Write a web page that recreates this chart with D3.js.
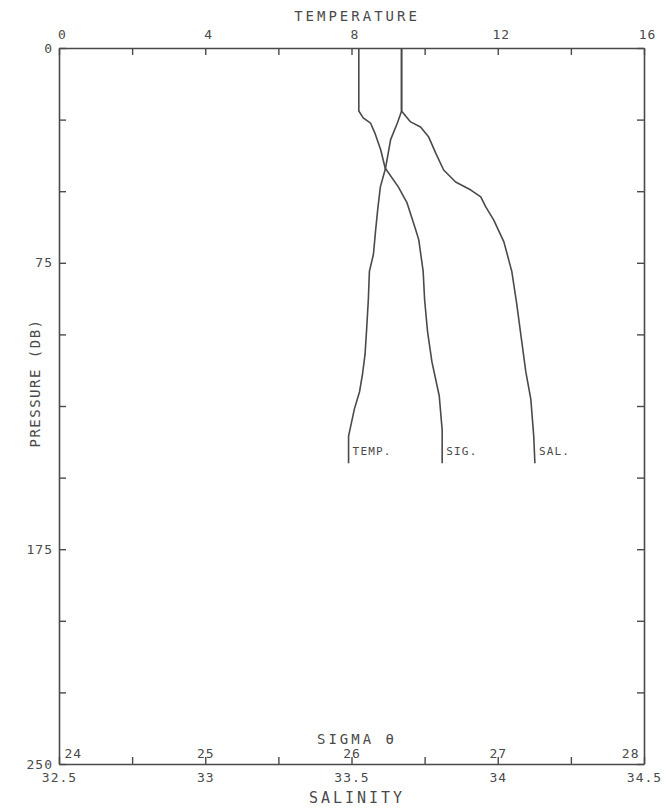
<!DOCTYPE html>
<html>
<head>
<meta charset="utf-8">
<script src="https://cdn.jsdelivr.net/npm/d3@7"></script>
<style>
body { margin:0; background:#fff; }
text { font-family:"DejaVu Sans Mono", monospace; fill:#4a4a4a; }
</style>
</head>
<body>
<div id="chart"></div>
<script>
// tick labels
var tempTicks = [0, 4, 8, 12, 16]
var salTicks = [32.5, 33, 33.5, 34, 34.5]
var sigTicks = [24, 25, 26, 27, 28]
var presTicks = [0, 75, 175, 250]

// profiles: [pressure, value]
var temperature = [[0,9.37],[22,9.37],[26,9.26],[32,9.07],[42,8.93],[48.5,8.79],[56,8.72],[63.6,8.66],[72,8.6],[78,8.49],[88,8.46],[99,8.41],[107,8.37],[114,8.3],[120,8.22],[126,8.08],[135.5,7.92],[145,7.92]]
var sigma = [[0,26.05],[22,26.05],[24.4,26.08],[26.2,26.13],[29.7,26.16],[35.6,26.2],[41.9,26.23],[48.5,26.32],[54.1,26.38],[63.6,26.44],[67,26.46],[78,26.49],[88,26.5],[99,26.52],[109.6,26.55],[121.5,26.6],[133.4,26.62],[145,26.62]]
var salinity = [[0,33.671],[22,33.671],[25.8,33.702],[27.6,33.736],[31.1,33.764],[36.7,33.788],[42.6,33.815],[46.8,33.856],[49.6,33.908],[52,33.942],[55.5,33.959],[60,33.986],[67.7,34.021],[78,34.048],[89.4,34.065],[100.2,34.079],[113.1,34.096],[122.6,34.113],[135.5,34.123],[145,34.127]]

var margin = {top:48, right:26, bottom:46, left:59}
var W = 670, H = 810
var width = W - margin.left - margin.right
var height = H - margin.top - margin.bottom

var svg = d3.select('#chart').append('svg')
    .attr('width', W)
    .attr('height', H)

var y = d3.scaleLinear().domain([0, 250]).range([margin.top, margin.top + height])
var xT = d3.scaleLinear().domain([0, 16]).range([margin.left, margin.left + width])
var xS = d3.scaleLinear().domain([32.5, 34.5]).range([margin.left, margin.left + width])
var xG = d3.scaleLinear().domain([24, 28]).range([margin.left, margin.left + width])

var ink = '#4a4a4a'

function styleAxis(g) {
    g.select('.domain').attr('stroke', ink).attr('stroke-width', 1.6)
    g.selectAll('.tick line').attr('stroke', ink).attr('stroke-width', 1.4)
    g.selectAll('.tick text').attr('font-size', 13).attr('letter-spacing', 1)
        .style('font-family', '"DejaVu Sans Mono", monospace').attr('fill', ink)
}

// top: temperature
svg.append('g')
    .attr('transform', `translate(0,${margin.top})`)
    .call(d3.axisTop(xT).tickValues(d3.range(0, 17, 2)).tickSize(-7).tickSizeOuter(0).tickPadding(9)
        .tickFormat(d => tempTicks.includes(d) ? d : ''))
    .call(styleAxis)
    .call(g => g.selectAll('.tick text').attr('dx', 3))

// bottom: salinity
svg.append('g')
    .attr('transform', `translate(0,${margin.top + height})`)
    .call(d3.axisBottom(xS).tickValues(d3.range(32.5, 34.51, 0.25)).tickSize(-7).tickSizeOuter(0).tickPadding(9)
        .tickFormat(d => salTicks.includes(d) ? d : ''))
    .call(styleAxis)

// bottom, inside: sigma theta labels
svg.append('g')
    .attr('transform', `translate(0,${margin.top + height})`)
    .call(d3.axisTop(xG).tickValues(sigTicks).tickSize(0).tickPadding(6).tickFormat(d3.format('d')))
    .call(styleAxis)
    .call(g => g.select('.domain').remove())
    .call(g => g.selectAll('.tick text')
        .attr('text-anchor', d => d == 24 ? 'start' : d == 28 ? 'end' : 'middle')
        .attr('dx', d => d == 24 ? 5 : d == 28 ? -5 : 0))

// left: pressure
svg.append('g')
    .attr('transform', `translate(${margin.left},0)`)
    .call(d3.axisLeft(y).tickValues(d3.range(0, 251, 25)).tickSize(-7).tickSizeOuter(0).tickPadding(6)
        .tickFormat(d => presTicks.includes(d) ? d : ''))
    .call(styleAxis)

// right
svg.append('g')
    .attr('transform', `translate(${margin.left + width},0)`)
    .call(d3.axisRight(y).tickValues(d3.range(0, 251, 25)).tickSize(-7).tickSizeOuter(0).tickFormat(''))
    .call(styleAxis)

// profiles
var series = [
    {data: temperature, x: xT, label: 'TEMP.'},
    {data: sigma, x: xG, label: 'SIG.'},
    {data: salinity, x: xS, label: 'SAL.'}
]

series.forEach(function(s) {
    var line = d3.line()
        .x(d => s.x(d[1]))
        .y(d => y(d[0]))
    svg.append('path')
        .attr('d', line(s.data))
        .attr('fill', 'none')
        .attr('stroke', ink)
        .attr('stroke-width', 1.6)
        .attr('stroke-linejoin', 'round')
    var last = s.data[s.data.length - 1]
    svg.append('text')
        .attr('x', s.x(last[1]) + 4)
        .attr('y', y(last[0]) - 8)
        .attr('font-size', 11)
        .attr('letter-spacing', 1.2)
        .text(s.label)
})

// titles
svg.append('text')
    .attr('x', 357).attr('y', 21)
    .attr('text-anchor', 'middle')
    .attr('font-size', 14).attr('letter-spacing', 3)
    .text('TEMPERATURE')

svg.append('text')
    .attr('x', 357).attr('y', margin.top + height - 20)
    .attr('text-anchor', 'middle')
    .attr('font-size', 14).attr('letter-spacing', 3)
    .text('SIGMA θ')

svg.append('text')
    .attr('x', 357).attr('y', 803)
    .attr('text-anchor', 'middle')
    .attr('font-size', 15).attr('letter-spacing', 3)
    .text('SALINITY')

svg.append('text')
    .attr('transform', 'translate(40,383) rotate(-90)')
    .attr('text-anchor', 'middle')
    .attr('font-size', 14).attr('letter-spacing', 1.5)
    .text('PRESSURE (DB)')
</script>
</body>
</html>
